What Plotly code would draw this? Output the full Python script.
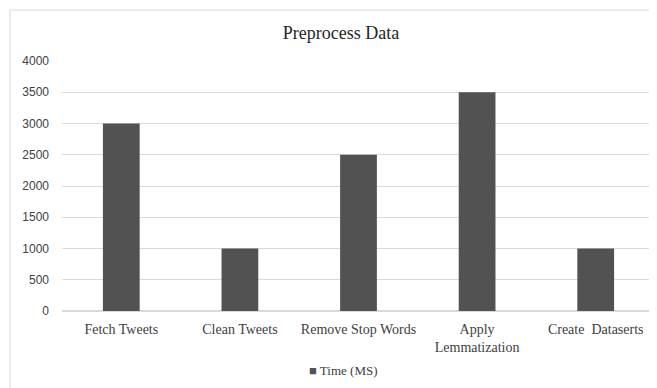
import plotly.graph_objects as go

categories = ["Fetch Tweets", "Clean Tweets", "Remove Stop Words", "Apply<br>Lemmatization", "Create  Dataserts"]
values = [3000, 1000, 2500, 3500, 1000]
series_name = "Time (MS)"
y_ticks = [0, 500, 1000, 1500, 2000, 2500, 3000, 3500, 4000]

OFF = 8  # page body margin
W, H = 657, 388
# target pixel positions in the viewport
plot_left, plot_right, plot_top, plot_bottom = 62, 655, 61, 311
L = plot_left - OFF
T = plot_top - OFF
R = W - (plot_right - OFF)
B = H - (plot_bottom - OFF)
pw, ph = W - L - R, H - T - B

def px(x):
    return (x - plot_left) / pw

def py(y):
    return (plot_bottom - y) / ph

bar_color = "#525252"

fig = go.Figure()
fig.add_trace(go.Bar(
    x=categories, y=values, name=series_name,
    marker=dict(color=bar_color, line=dict(width=0)),
    showlegend=False,
))

fig.update_layout(
    width=W, height=H,
    margin=dict(l=L, r=R, t=T, b=B),
    paper_bgcolor="white", plot_bgcolor="white",
    bargap=0.69,
    title=dict(text="Preprocess Data", x=px(341), xref="paper", xanchor="center",
               y=1 - (33 - OFF) / H, yanchor="middle",
               font=dict(family="Liberation Serif", size=18, color="#262626")),
    xaxis=dict(showgrid=False, showline=False, ticks="", ticklabelstandoff=8,
               tickfont=dict(family="Liberation Serif", size=14, color="#404040")),
    yaxis=dict(range=[0, 4000], tickvals=y_ticks, showgrid=True, gridcolor="#d9d9d9",
               gridwidth=1, zeroline=True, zerolinecolor="#d9d9d9", showline=False,
               ticks="", ticklabelstandoff=12,
               tickfont=dict(family="Liberation Sans", size=12, color="#404040")),
    annotations=[dict(
        text=f'<span style="color:{bar_color}">■</span> {series_name}',
        xref="paper", yref="paper", x=px(343), y=py(370),
        xanchor="center", yanchor="middle", showarrow=False,
        font=dict(family="Liberation Serif", size=13, color="#404040"))],
    shapes=[dict(type="rect", xref="paper", yref="paper",
                 x0=px(10), x1=px(W + 10), y0=py(H + 10), y1=py(10),
                 line=dict(color="#d9d9d9", width=1), fillcolor="rgba(0,0,0,0)", layer="below")],
)

fig.write_html("out.html")
